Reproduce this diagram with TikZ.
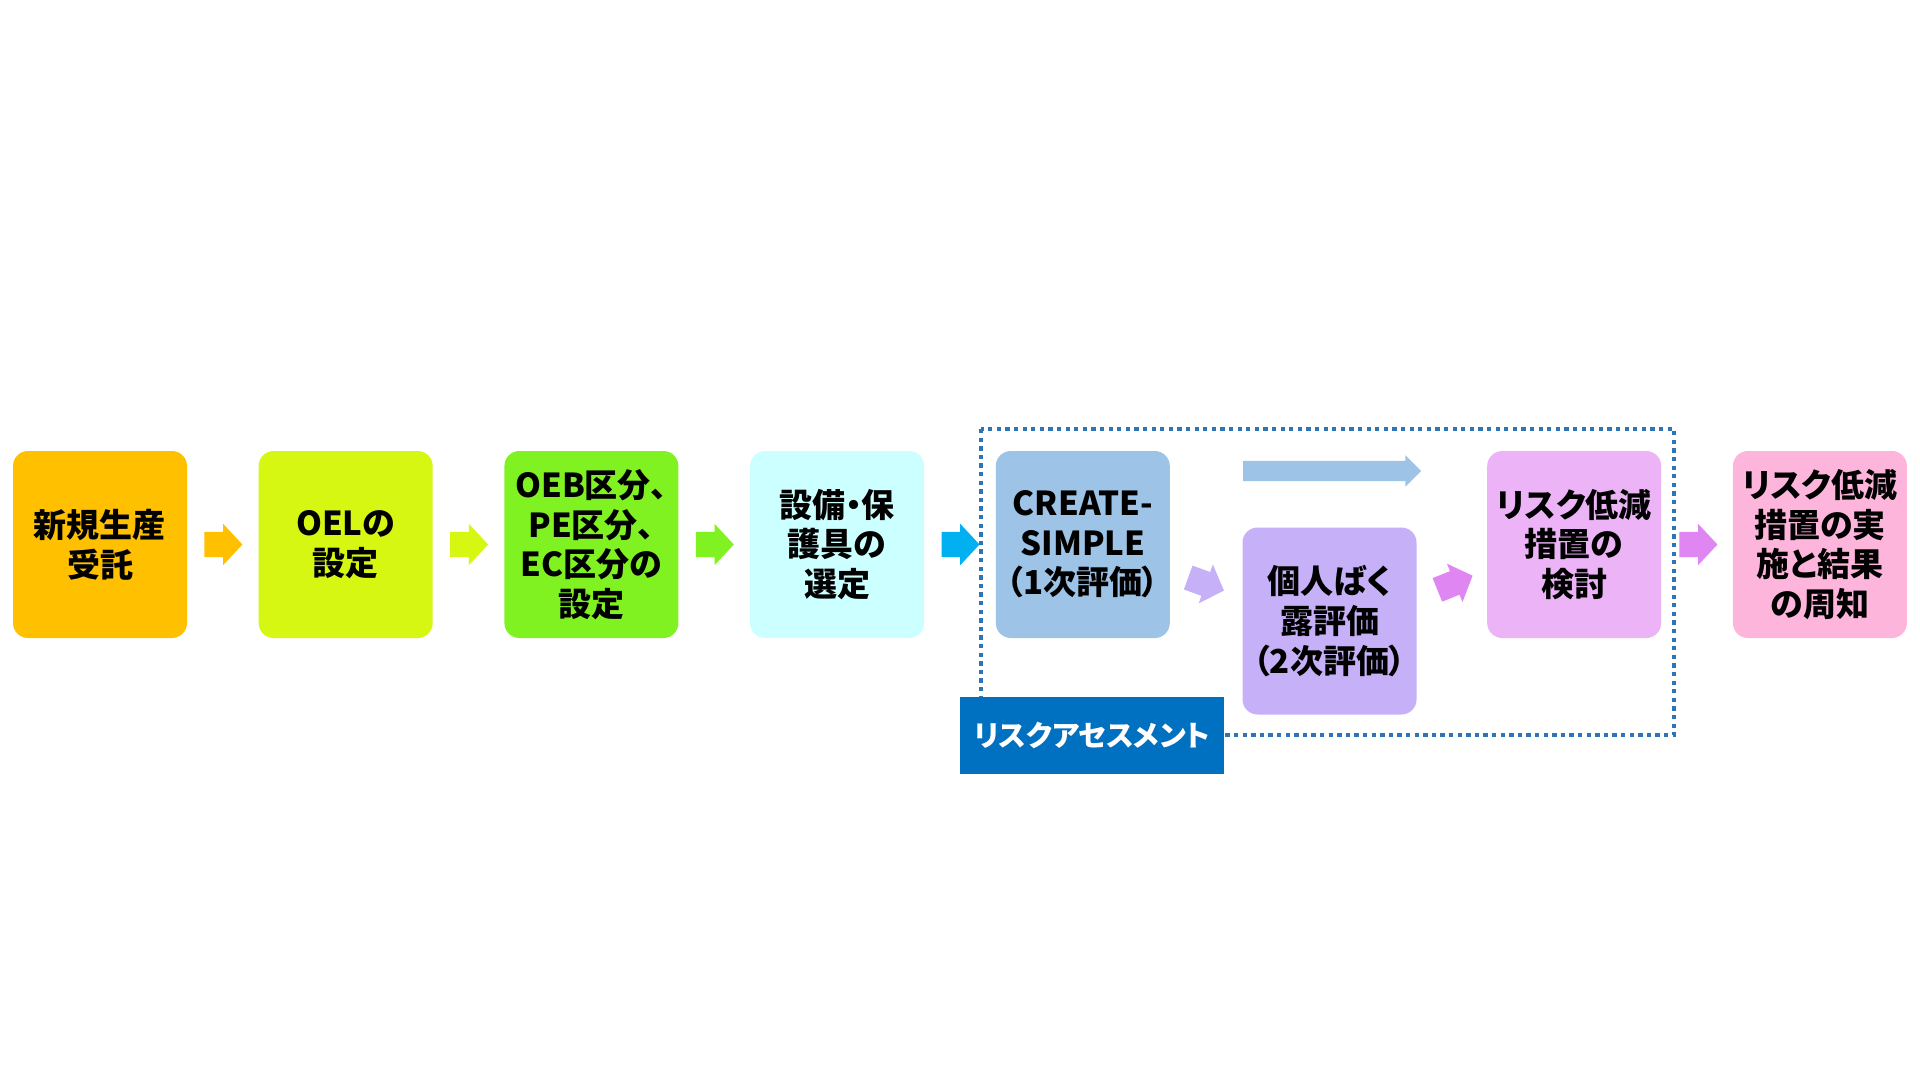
\documentclass[tikz,border=0pt]{standalone}
\usepackage{fontspec}
\setmainfont{Noto Sans CJK JP}[RawFeature=+palt]
\usetikzlibrary{shapes.arrows}
\definecolor{orangebox}{HTML}{FFC000}
\definecolor{limebox}{HTML}{D6F712}
\definecolor{greenbox}{HTML}{80F222}
\definecolor{cyanbox}{HTML}{CCFFFF}
\definecolor{bluebox}{HTML}{9DC3E6}
\definecolor{lilacbox}{HTML}{C6B1F8}
\definecolor{mauvebox}{HTML}{ECB4F7}
\definecolor{pinkbox}{HTML}{FDB5DC}
\definecolor{cyanarrow}{HTML}{00B0F0}
\definecolor{magentaarrow}{HTML}{DF86F3}
\definecolor{riskline}{HTML}{2E75B6}
\definecolor{risklabel}{HTML}{0070C0}
\begin{document}
\begin{tikzpicture}[x=1pt, y=-1pt,
  stepbox/.style={rectangle, rounded corners=15pt, inner sep=0pt, minimum width=174pt, minimum height=187pt, align=center, font=\bfseries\fontsize{33pt}{39.6pt}\selectfont},
  blockarrow/.style={single arrow, inner xsep=0pt, inner ysep=12.5pt, minimum height=38pt, single arrow head extend=8pt, single arrow tip angle=94},
  labelbox/.style={rectangle, inner sep=0pt, minimum width=264pt, minimum height=77pt, fill=risklabel, text=white, font=\bfseries\fontsize{29pt}{32pt}\selectfont}]
  \useasboundingbox (0,0) rectangle (1920,1080);
  % Boxes
  \node[stepbox, fill=orangebox] at (100, 544.5) (b1) {新規生産\\受託};
  \node[stepbox, fill=limebox] at (345.7, 544.5) (b2) {OELの\\設定};
  \node[stepbox, fill=greenbox] at (591.4, 544.5) (b3) {OEB区分、\\PE区分、\\EC区分の\\設定};
  \node[stepbox, fill=cyanbox] at (837.1, 544.5) (b4) {設備・保\\護具の\\選定};
  \node[stepbox, fill=bluebox] at (1082.8, 544.5) (b5) {CREATE-\\SIMPLE\\（1次評価）};
  \node[stepbox, fill=lilacbox] at (1329.5, 621) (b6) {個人ばく\\露評価\\（2次評価）};
  \node[stepbox, fill=mauvebox] at (1574.2, 544.5) (b7) {リスク低減\\措置の\\検討};
  \node[stepbox, fill=pinkbox] at (1819.9, 544.5) (b8) {リスク低減\\措置の実\\施と結果\\の周知};
  % Arrows
  \node[blockarrow, fill=orangebox] at (217.5, 544.5) (a1) {};
  \node[blockarrow, fill=limebox] at (463.2, 544.5) (a2) {};
  \node[blockarrow, fill=greenbox] at (708.9, 544.5) (a3) {};
  \node[blockarrow, fill=cyanarrow] at (954.6, 544.5) (a4) {};
  \node[blockarrow, fill=lilacbox, rotate=-20] at (1200.5, 582) (a5) {};
  \node[blockarrow, fill=magentaarrow, rotate=22] at (1449.5, 585) (a6) {};
  \node[blockarrow, fill=magentaarrow] at (1692.5, 544.5) (a7) {};
  \node[single arrow, inner xsep=0pt, inner ysep=10pt, minimum height=178pt, single arrow head extend=5.5pt, fill=bluebox] at (1327, 471) (a8) {};
  % Risk assessment frame
  \draw[riskline, line width=4.3pt, dash pattern=on 4.3pt off 4.3pt] (981,429) rectangle (1674,735);
  \node[labelbox] at (1092, 735.5) (ra) {リスクアセスメント};
\end{tikzpicture}
\end{document}
